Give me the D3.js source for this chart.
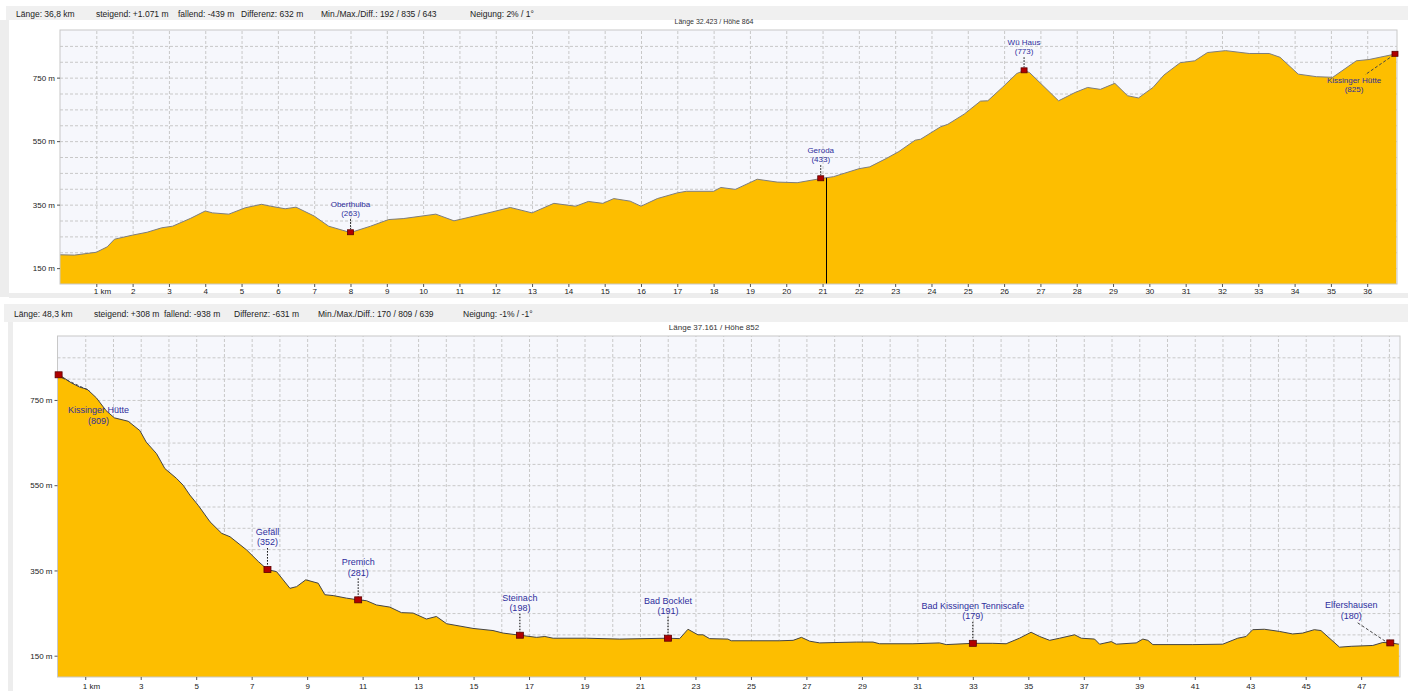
<!DOCTYPE html>
<html>
<head>
<meta charset="utf-8">
<script src="https://cdn.jsdelivr.net/npm/d3@7"></script>
<style>
  body { margin: 0; background: #fff; }
  svg text { font-family: "Liberation Sans", Arial, sans-serif; }
</style>
</head>
<body>
<div id="chart"></div>
<script>
// upper profile (km / m)
const topKm = [0,0.4,1.0,1.3,1.5,2.0,2.4,2.8,3.1,3.6,4.0,4.2,4.65,5.1,5.55,5.8,6.2,6.5,7.0,7.4,
  8.0,8.55,9.05,9.45,10.35,10.85,11.9,12.4,13.0,13.6,14.2,14.55,14.95,15.25,15.7,16.0,16.45,17.0,17.25,18.0,
  18.2,18.6,19.2,19.75,20.3,20.95,21.3,22.0,22.3,22.75,23.1,23.55,23.7,24.25,24.45,24.9,25.35,25.55,25.95,26.35,
  26.55,26.7,27.5,27.95,28.3,28.65,29.05,29.4,29.7,30.1,30.4,30.85,31.25,31.6,32.1,32.75,33.3,33.6,34.1,34.6,
  35.05,35.7,36.05,36.8];
const topElev = [192,191,200,217,241,254,263,277,282,307,330,324,320,340,351,345,337,342,314,282,
  262,282,303,306,320,299,327,341,324,354,345,360,354,369,361,345,369,387,392,392,
  404,398,430,421,419,432,438,463,469,495,517,553,556,595,603,635,676,677,719,763,
  772,766,677,703,719,713,732,693,686,719,758,797,803,829,835,826,826,814,761,753,
  751,803,807,825];

// lower profile (km / m)
const bottomKm = [0,0.2,0.5,0.8,1.07,1.4,1.75,2.05,2.55,2.97,3.2,3.57,3.87,4.29,4.53,4.77,5.07,5.5,5.92,6.22,
  6.82,7.24,7.57,7.9,8.38,8.62,8.95,9.4,9.64,9.94,10.42,10.84,11.14,11.5,11.98,12.4,12.82,13.3,13.66,14.03,
  14.98,15.7,16.07,16.67,17.27,17.57,17.87,19.07,20.27,22.01,22.43,22.73,23.09,23.27,23.51,24.17,24.29,26.04,26.52,26.82,
  27.12,27.48,28.8,29.4,29.64,30.84,31.8,32.04,33.0,33.72,34.2,34.68,35.1,35.41,35.77,36.13,36.67,36.91,37.39,37.57,
  37.99,38.17,38.89,39.13,39.31,39.49,40.93,42.01,42.55,42.85,43.09,43.51,44.05,44.53,44.89,45.31,45.55,46.22,46.64,47.42,
  47.78,48.05,48.36];
const bottomElev = [809,803,790,780,775,755,725,708,700,678,651,624,589,566,550,527,503,464,437,429,
  398,371,352,347,308,312,328,320,293,291,285,281,279,269,264,251,250,236,242,225,
  214,209,203,198,193,195,191,191,189,191,190,212,199,199,190,189,185,185,186,193,
  184,180,182,182,178,178,180,176,179,179,178,191,205,195,186,191,199,191,189,177,
  183,177,180,189,186,176,176,177,191,195,211,212,207,201,203,211,209,170,172,174,
  181,180,177];

// waypoints
const topStopNames = ['Oberthulba', 'Geroda', 'Wü Haus', 'Kissinger Hütte'];
const topStopKm = [8.0, 20.95, 26.55, 36.8];
const topStopElev = [263, 433, 773, 825];

const bottomStopNames = ['Kissinger Hütte', 'Gefäll', 'Premich', 'Steinach', 'Bad Bocklet', 'Bad Kissingen Tenniscafe', 'Elfershausen'];
const bottomStopKm = [0.04, 7.57, 10.84, 16.67, 22.01, 33.0, 48.05];
const bottomStopElev = [809, 352, 281, 198, 191, 179, 180];

// header texts
const topStats = ['Länge: 36,8 km', 'steigend: +1.071 m', 'fallend: -439 m', 'Differenz: 632 m', 'Min./Max./Diff.: 192 / 835 / 643', 'Neigung: 2% / 1°'];
const bottomStats = ['Länge: 48,3 km', 'steigend: +308 m', 'fallend: -938 m', 'Differenz: -631 m', 'Min./Max./Diff.: 170 / 809 / 639', 'Neigung: -1% / -1°'];
const topCaption = 'Länge 32.423 / Höhe 864';
const bottomCaption = 'Länge 37.161 / Höhe 852';
const topCursorKm = 21.1;

const yTickValues = [150, 350, 550, 750];

const svg = d3.select('#chart')
  .append('svg')
    .attr('width', 1408)
    .attr('height', 691);

// panel frames and header bars
svg.append('rect').attr('x', 0).attr('y', 20).attr('width', 9).attr('height', 277).attr('fill', '#ededed');
svg.append('rect').attr('x', 9).attr('y', 293).attr('width', 1399).attr('height', 5).attr('fill', '#ededed');
svg.append('rect').attr('x', 8).attr('y', 322).attr('width', 5).attr('height', 369).attr('fill', '#ededed');
svg.append('rect').attr('x', 6).attr('y', 6).attr('width', 1402).attr('height', 14).attr('fill', '#f0f0f0');
svg.append('rect').attr('x', 4).attr('y', 304).attr('width', 1404).attr('height', 18).attr('fill', '#f0f0f0');

function drawStats(stats, xs, y) {
  svg.append('g').selectAll('text')
    .data(stats)
    .enter()
    .append('text')
      .attr('x', (d, i) => xs[i])
      .attr('y', y)
      .attr('dominant-baseline', 'middle')
      .style('font-size', '8.5px')
      .style('fill', '#222')
      .text(d => d);
}
drawStats(topStats, [16, 96, 178, 241, 321, 470], 14.5);
drawStats(bottomStats, [14, 94, 164, 234, 318, 463], 315);

function drawProfile(cfg) {
  let x = d3.scaleLinear().domain([0, cfg.kmMax]).range([cfg.left, cfg.right]);
  let y = d3.scaleLinear().domain([100, 900]).range([cfg.bottom, cfg.top]);
  let w = cfg.right - cfg.left;
  let h = cfg.bottom - cfg.top;

  let g = svg.append('g');

  g.append('text')
    .attr('x', 714).attr('y', cfg.top - 6)
    .attr('text-anchor', 'middle')
    .style('font-size', cfg.capSize + 'px')
    .style('fill', '#333')
    .text(cfg.caption);

  g.append('rect')
    .attr('x', cfg.left).attr('y', cfg.top)
    .attr('width', w).attr('height', h)
    .attr('fill', '#f6f7fc');

  // grid
  let gx = g.append('g')
    .attr('transform', `translate(0,${cfg.bottom})`)
    .call(d3.axisBottom(x).tickValues(cfg.gridKm).tickSize(-h).tickFormat(''));
  let gy = g.append('g')
    .attr('transform', `translate(${cfg.left},0)`)
    .call(d3.axisLeft(y).tickValues(d3.range(150, 900, 50)).tickSize(-w).tickFormat(''));
  [gx, gy].forEach(a => {
    a.select('.domain').remove();
    a.selectAll('line').attr('stroke', '#c8c8c8').attr('stroke-dasharray', '3,2');
  });

  // profile
  let area = d3.area()
    .x((d, i) => x(cfg.km[i]))
    .y0(cfg.bottom)
    .y1(d => y(d));
  let line = d3.line()
    .x((d, i) => x(cfg.km[i]))
    .y(d => y(d));

  g.append('path')
    .datum(cfg.elev)
    .attr('d', area)
    .attr('fill', '#fdbe00');
  g.append('path')
    .datum(cfg.elev)
    .attr('d', line)
    .attr('fill', 'none')
    .attr('stroke', cfg.lineColor)
    .attr('stroke-width', 1);

  if (cfg.cursorKm != null) {
    let cy = y(d3.scaleLinear().domain(cfg.km).range(cfg.elev)(cfg.cursorKm));
    let cx = Math.round(x(cfg.cursorKm)) + 0.5;
    g.append('line')
      .attr('x1', cx).attr('x2', cx)
      .attr('y1', cy).attr('y2', cfg.bottom)
      .attr('stroke', '#000').attr('stroke-width', 1);
  }

  g.append('rect')
    .attr('x', cfg.left).attr('y', cfg.top)
    .attr('width', w).attr('height', h)
    .attr('fill', 'none')
    .attr('stroke', '#c8c8c8');

  // axes
  let ax = g.append('g')
    .attr('transform', `translate(0,${cfg.bottom})`)
    .call(d3.axisBottom(x).tickValues(cfg.labelKm).tickSize(3).tickPadding(cfg.xPad)
      .tickFormat(d => d === 1 ? '1 km' : d));
  ax.selectAll('text').filter(d => d === 1)
    .attr('text-anchor', 'start').attr('x', -3);

  let ay = g.append('g')
    .attr('transform', `translate(${cfg.left},0)`)
    .call(d3.axisLeft(y).tickValues(yTickValues).tickSize(3).tickPadding(2)
      .tickFormat(d => d + ' m'));

  [ax, ay].forEach(a => {
    a.select('.domain').remove();
    a.selectAll('line').attr('stroke', '#555');
    a.selectAll('text')
      .style('font-size', '8px')
      .style('fill', '#222')
      .style('font-family', '"Liberation Sans", Arial, sans-serif');
  });

  // waypoints
  let stops = cfg.names.map((n, i) => ({
    name: n,
    px: Math.min(x(cfg.stopKm[i]), cfg.right - 2),
    py: y(cfg.stopElev[i]),
    elev: cfg.stopElev[i],
    place: cfg.place[i] || null
  }));

  stops.forEach(s => {
    let lx, l1, l2;
    if (s.place) {
      lx = s.px + s.place[0];
      l1 = s.py + s.place[1];
      l2 = l1 + cfg.lineGap;
      g.append('line')
        .attr('x1', s.px - 1).attr('y1', s.py + 1)
        .attr('x2', s.px + s.place[2]).attr('y2', s.py + s.place[3])
        .attr('stroke', '#444').attr('stroke-dasharray', '3,2');
    } else {
      lx = s.px;
      l1 = s.py - cfg.labelRise;
      l2 = l1 + cfg.lineGap;
      g.append('line')
        .attr('x1', s.px).attr('x2', s.px)
        .attr('y1', l2 + 5).attr('y2', s.py - 3)
        .attr('stroke', '#000').attr('stroke-dasharray', '1.5,1.5');
    }
    [[s.name, l1], ['(' + s.elev + ')', l2]].forEach(t => {
      g.append('text')
        .attr('x', lx).attr('y', t[1])
        .attr('text-anchor', 'middle')
        .attr('dominant-baseline', 'middle')
        .style('font-size', cfg.labelSize + 'px')
        .style('fill', '#2e2e9c')
        .text(t[0]);
    });
    g.append('rect')
      .attr('x', s.px - cfg.mw / 2).attr('y', s.py - cfg.mh / 2)
      .attr('width', cfg.mw).attr('height', cfg.mh)
      .attr('fill', '#b00000')
      .attr('stroke', '#5a0000')
      .attr('stroke-width', 0.8);
  });
}

drawProfile({
  left: 60, right: 1397, top: 30, bottom: 284, kmMax: 36.82,
  km: topKm, elev: topElev,
  gridKm: d3.range(1, 37), labelKm: d3.range(1, 37), xPad: 1,
  caption: topCaption, capSize: 7,
  lineColor: '#7d7d7d', cursorKm: topCursorKm,
  names: topStopNames, stopKm: topStopKm, stopElev: topStopElev,
  place: [null, null, null, [-41, 27, -30, 21]],
  labelRise: 27, lineGap: 9, labelSize: 8, mw: 6, mh: 5
});

drawProfile({
  left: 57.5, right: 1400, top: 336, bottom: 677, kmMax: 48.4,
  km: bottomKm, elev: bottomElev,
  gridKm: d3.range(1, 49), labelKm: d3.range(1, 48, 2), xPad: 3,
  caption: bottomCaption, capSize: 8,
  lineColor: '#444', cursorKm: null,
  names: bottomStopNames, stopKm: bottomStopKm, stopElev: bottomStopElev,
  place: [[40, 36, 31, 16], null, null, null, null, null, [-39, -37, -34, -21]],
  labelRise: 37, lineGap: 10.5, labelSize: 9, mw: 7, mh: 6
});
</script>
</body>
</html>
